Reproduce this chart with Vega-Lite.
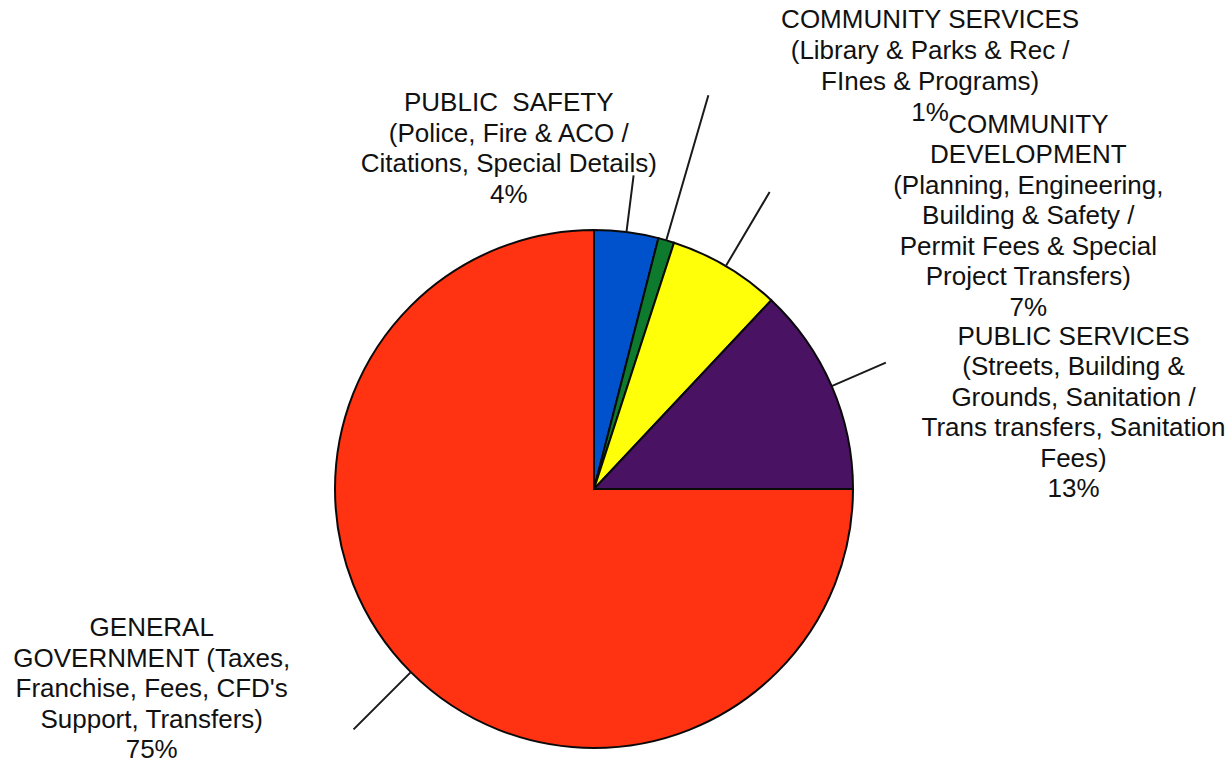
{
  "$schema": "https://vega.github.io/schema/vega-lite/v6.json",
  "width": 1188,
  "height": 548,
  "autosize": {"type": "none"},
  "padding": {"left": 0, "top": 215, "right": 44, "bottom": 0},
  "background": "white",
  "config": {"view": {"stroke": null}},
  "data": {
    "values": [
      {"idx": 1, "category": "Public Safety", "value": 4, "label": "PUBLIC\u00a0 SAFETY\n(Police, Fire & ACO /\nCitations, Special Details)\n4%"},
      {"idx": 2, "category": "Community Services", "value": 1, "label": "COMMUNITY SERVICES\n(Library & Parks & Rec /\nFInes & Programs)\n1%"},
      {"idx": 3, "category": "Community Development", "value": 7, "label": "COMMUNITY\nDEVELOPMENT\n(Planning, Engineering,\nBuilding & Safety /\nPermit Fees & Special\nProject Transfers)\n7%"},
      {"idx": 4, "category": "Public Services", "value": 13, "label": "PUBLIC SERVICES\n(Streets, Building &\nGrounds, Sanitation /\nTrans transfers, Sanitation\nFees)\n13%"},
      {"idx": 5, "category": "General Government", "value": 75, "label": "GENERAL\nGOVERNMENT (Taxes,\nFranchise, Fees, CFD's\nSupport, Transfers)\n75%"}
    ]
  },
  "encoding": {
    "theta": {"field": "value", "type": "quantitative", "stack": true},
    "order": {"field": "idx", "type": "quantitative"},
    "detail": {"field": "category", "type": "nominal"}
  },
  "layer": [
    {
      "mark": {"type": "arc", "outerRadius": 259, "stroke": "#0a0a0a", "strokeWidth": 2},
      "encoding": {
        "color": {
          "field": "category",
          "type": "nominal",
          "scale": {
            "domain": ["Public Safety", "Community Services", "Community Development", "Public Services", "General Government"],
            "range": ["#0052cc", "#0e7a2e", "#ffff0a", "#4a1262", "#ff3211"]
          },
          "legend": null
        }
      }
    },
    {
      "mark": {"type": "arc", "innerRadius": 259, "outerRadius": 316, "padAngle": 3, "fillOpacity": 0, "stroke": "#1a1a1a", "strokeWidth": 2},
      "encoding": {"strokeOpacity": {"condition": {"test": "datum.category === 'Public Safety'", "value": 1}, "value": 0}}
    },
    {
      "mark": {"type": "arc", "innerRadius": 259, "outerRadius": 410, "padAngle": 3, "fillOpacity": 0, "stroke": "#1a1a1a", "strokeWidth": 2},
      "encoding": {"strokeOpacity": {"condition": {"test": "datum.category === 'Community Services'", "value": 1}, "value": 0}}
    },
    {
      "mark": {"type": "arc", "innerRadius": 259, "outerRadius": 345, "padAngle": 3, "fillOpacity": 0, "stroke": "#1a1a1a", "strokeWidth": 2},
      "encoding": {"strokeOpacity": {"condition": {"test": "datum.category === 'Community Development'", "value": 1}, "value": 0}}
    },
    {
      "mark": {"type": "arc", "innerRadius": 259, "outerRadius": 318, "padAngle": 3, "fillOpacity": 0, "stroke": "#1a1a1a", "strokeWidth": 2},
      "encoding": {"strokeOpacity": {"condition": {"test": "datum.category === 'Public Services'", "value": 1}, "value": 0}}
    },
    {
      "mark": {"type": "arc", "innerRadius": 259, "outerRadius": 340, "padAngle": 3, "fillOpacity": 0, "stroke": "#1a1a1a", "strokeWidth": 2},
      "encoding": {
        "theta": {"field": "value", "type": "quantitative", "stack": true, "scale": {"range": [1.9635, 5.1051]}},
        "strokeOpacity": {"condition": {"test": "datum.category === 'General Government'", "value": 1}, "value": 0}
      }
    },
    {
      "mark": {"type": "text", "radius": 389, "dx": -134, "align": "center", "baseline": "middle", "font": "Liberation Sans", "fontSize": 26, "lineHeight": 30.5, "lineBreak": "\n", "color": "#111111"},
      "encoding": {"text": {"condition": {"test": "datum.category === 'Public Safety'", "field": "label"}, "value": ""}}
    },
    {
      "mark": {"type": "text", "radius": 488, "dx": 200, "align": "center", "baseline": "middle", "font": "Liberation Sans", "fontSize": 26, "lineHeight": 31, "lineBreak": "\n", "color": "#111111"},
      "encoding": {"text": {"condition": {"test": "datum.category === 'Community Services'", "field": "label"}, "value": ""}}
    },
    {
      "mark": {"type": "text", "radius": 423, "dx": 219, "align": "center", "baseline": "middle", "font": "Liberation Sans", "fontSize": 26, "lineHeight": 30.5, "lineBreak": "\n", "color": "#111111"},
      "encoding": {"text": {"condition": {"test": "datum.category === 'Community Development'", "field": "label"}, "value": ""}}
    },
    {
      "mark": {"type": "text", "radius": 383, "dx": 128, "align": "center", "baseline": "middle", "font": "Liberation Sans", "fontSize": 26, "lineHeight": 30.5, "lineBreak": "\n", "color": "#111111"},
      "encoding": {"text": {"condition": {"test": "datum.category === 'Public Services'", "field": "label"}, "value": ""}}
    },
    {
      "mark": {"type": "text", "radius": 197, "dx": -303, "align": "center", "baseline": "middle", "font": "Liberation Sans", "fontSize": 26, "lineHeight": 30.5, "lineBreak": "\n", "color": "#111111"},
      "encoding": {"text": {"condition": {"test": "datum.category === 'General Government'", "field": "label"}, "value": ""}}
    }
  ],
  "resolve": {"scale": {"theta": "independent"}}
}
